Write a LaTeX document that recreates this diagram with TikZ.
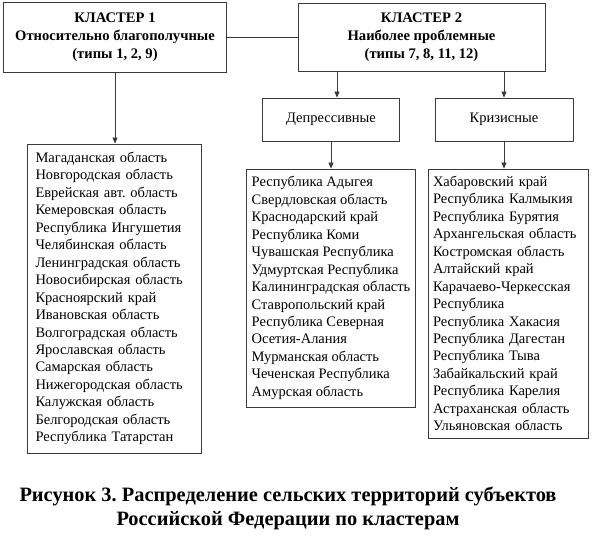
\documentclass[tikz,border=0pt]{standalone}
\usepackage{fontspec}
\setmainfont{Liberation Serif}
\usepackage{tikz}
\usetikzlibrary{arrows.meta,positioning,calc}
\definecolor{boxgray}{HTML}{3A3A3A}
\frenchspacing

\begin{document}
\begin{tikzpicture}[
  x=1pt,y=-1pt,
  head/.style={draw=boxgray,line width=0.9pt,align=center,font=\bfseries\fontsize{14.6}{18}\selectfont,inner sep=2pt},
  kind/.style={draw=boxgray,line width=0.9pt,align=center,font=\fontsize{14.5}{17}\selectfont,inner sep=2pt},
  list/.style={draw=boxgray,line width=0.9pt,align=left,font=\fontsize{14.5}{17.45}\selectfont,inner ysep=2pt},
  arr/.style={-{Triangle[length=6pt,width=5pt]},line width=0.8pt,draw=boxgray},
  link/.style={line width=0.8pt,draw=boxgray}
]
\useasboundingbox (0,0) rectangle (595,542);
\node[head,minimum width=223,minimum height=70] (cl1) at (115,37.5) {КЛАСТЕР 1\\Относительно благополучные\\(типы 1, 2, 9)};
\node[head,minimum width=247,minimum height=68] (cl2) at (421.5,37.5) {КЛАСТЕР 2\\Наиболее проблемные\\(типы 7, 8, 11, 12)};
\node[kind,minimum width=137,minimum height=43] (dep) at (331,119.5) {Депрессивные};
\node[kind,minimum width=138,minimum height=43] (kriz) at (504,119.5) {Кризисные};
\node[list,inner xsep=8pt,text width=158,minimum height=309] (list1) at (114.5,298.5) {Магаданская область\\Новгородская область\\Еврейская авт. область\\Кемеровская область\\Республика Ингушетия\\Челябинская область\\Ленинградская область\\Новосибирская область\\Красноярский край\\Ивановская область\\Волгоградская область\\Ярославская область\\Самарская область\\Нижегородская область\\Калужская область\\Белгородская область\\Республика Татарстан};
\node[list,inner xsep=5pt,minimum width=169,minimum height=238] (list2) at (331,288) {Республика Адыгея\\Свердловская область\\Краснодарский край\\Республика Коми\\Чувашская Республика\\Удмуртская Республика\\Калининградская область\\Ставропольский край\\Республика Северная\\Осетия-Алания\\Мурманская область\\Чеченская Республика\\Амурская область};
\node[list,inner xsep=5pt,text width=150,minimum height=269] (list3) at (508,303.5) {Хабаровский край\\Республика Калмыкия\\Республика Бурятия\\Архангельская область\\Костромская область\\Алтайский край\\Карачаево-Черкесская\\Республика\\Республика Хакасия\\Республика Дагестан\\Республика Тыва\\Забайкальский край\\Республика Карелия\\Астраханская область\\Ульяновская область};
\node[align=center,font=\bfseries\fontsize{20.4}{24}\selectfont] (cap) at (288,508) {Рисунок 3. Распределение сельских территорий субъектов\\Российской Федерации по кластерам};
% connectors
\draw[link] (cl1.east) -- (cl2.west);
\draw[arr] (cl1.south) -- (cl1.south |- list1.north);
\draw[arr] ([xshift=6pt]dep.north |- cl2.south) -- ([xshift=6pt]dep.north);
\draw[arr] (kriz.north |- cl2.south) -- (kriz.north);
\draw[arr] (dep.south) -- (list2.north);
\draw[arr] (kriz.south) -- (kriz.south |- list3.north);
\end{tikzpicture}
\end{document}
